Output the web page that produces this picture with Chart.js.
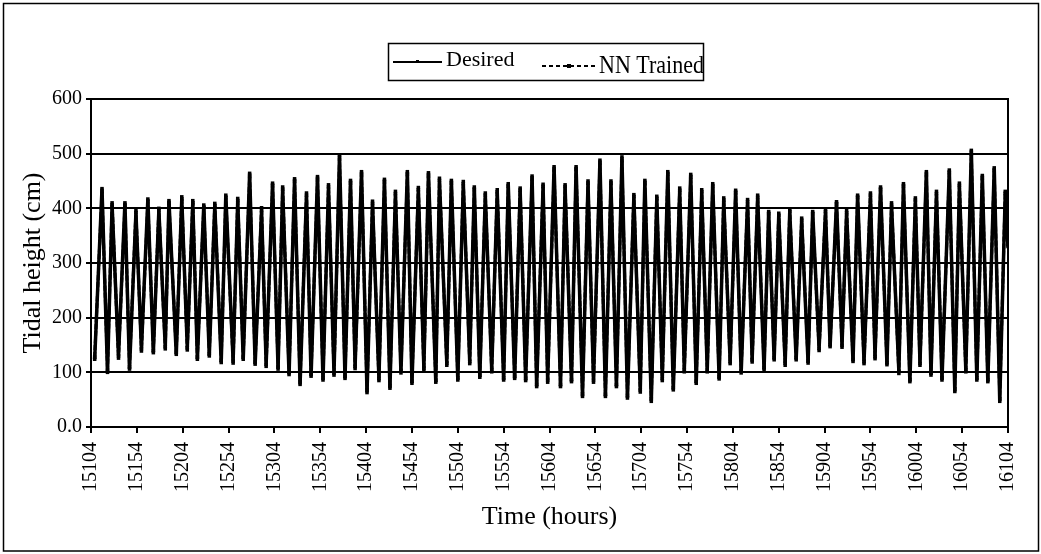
<!DOCTYPE html>
<html>
<head>
<meta charset="utf-8">
<script src="https://cdn.jsdelivr.net/npm/chart.js@4.4.1/dist/chart.umd.min.js"></script>
<style>
html,body{margin:0;padding:0;background:#fff;}
#wrap{width:1041px;height:554px;position:relative;}
</style>
</head>
<body>
<div id="wrap"><canvas id="c" width="1041" height="554"></canvas></div>
<script>
// Times (hours) of the turning points
const hours = [
  15108,15116,15122,15127,15134,15141,15146,15153,15159,15166,
  15172,15178,15185,15189,15197,15203,15209,15215,15220,15227,
  15233,15239,15246,15251,15259,15264,15270,15277,15283,15290,
  15295,15302,15308,15313,15320,15326,15332,15339,15344,15351,
  15357,15363,15369,15375,15381,15387,15392,15399,15405,15411,
  15418,15424,15430,15436,15442,15449,15454,15461,15467,15472,
  15480,15484,15492,15497,15504,15510,15517,15522,15528,15534,
  15541,15547,15554,15559,15566,15572,15578,15585,15590,15597,
  15602,15609,15616,15621,15628,15633,15640,15646,15652,15659,
  15665,15671,15677,15683,15689,15696,15703,15708,15715,15721,
  15727,15733,15739,15746,15751,15758,15764,15770,15776,15782,
  15789,15794,15801,15807,15813,15820,15825,15831,15838,15843,
  15849,15854,15861,15866,15873,15879,15886,15891,15898,15905,
  15910,15917,15923,15928,15935,15940,15947,15954,15959,15965,
  15972,15977,15985,15990,15997,16003,16008,16015,16020,16026,
  16032,16040,16046,16051,16058,16064,16070,16076,16082,16089,
  16095,16101,16104
];
// Desired tidal height (cm)
const desired = [
  124,436,100,406,130,410,106,392,143,417,
  136,396,147,414,133,417,145,410,124,406,
  130,405,118,424,121,414,124,464,115,396,
  115,446,106,435,96,454,78,424,93,458,
  86,439,99,497,89,451,111,467,63,409,
  89,453,71,427,99,467,80,434,108,465,
  82,451,117,451,86,445,120,439,91,424,
  105,430,86,445,89,433,85,459,74,440,
  86,476,74,439,83,476,56,446,86,488,
  56,446,74,494,53,421,68,451,47,418,
  89,467,68,433,105,462,80,430,105,445,
  88,415,120,433,99,412,123,420,105,394,
  123,387,117,394,123,378,117,394,144,394,
  147,412,150,392,120,424,120,424,129,439,
  114,406,102,445,83,415,117,467,95,427,
  86,470,65,442,105,506,86,460,83,474,
  47,427,330
];
// NN Trained tidal height (cm)
const nnTrained = [
  128,430,104,410,126,405,110,396,139,412,
  140,400,143,409,137,421,141,414,128,401,
  134,409,122,419,117,418,128,458,119,401,
  111,441,110,439,100,449,83,428,97,452,
  90,443,95,490,93,446,107,461,68,413,
  85,448,76,431,103,462,84,438,104,459,
  86,455,113,446,90,449,116,434,95,428,
  101,434,90,440,93,437,89,453,78,444,
  82,470,78,443,87,471,61,450,82,482,
  60,450,78,487,58,425,64,446,52,422,
  85,462,72,437,101,457,84,434,101,440,
  92,419,116,428,103,416,119,424,109,390,
  127,391,113,398,127,382,121,390,140,398,
  151,408,146,396,124,420,116,428,125,434,
  118,410,98,440,87,419,113,461,99,431,
  90,465,70,446,101,499,90,455,87,469,
  52,431,335
];
const xTickLabels = [15104,15154,15204,15254,15304,15354,15404,15454,15504,15554,
  15604,15654,15704,15754,15804,15854,15904,15954,16004,16054,16104];
const yTickValues = [0,100,200,300,400,500,600];
const yTickLabels = ['0.0','100','200','300','400','500','600'];
const seriesNames = ['Desired','NN Trained'];

const FONT = "'Liberation Serif','Times New Roman',serif";

const framePlugin = {
  id: 'frame',
  beforeDraw(chart) {
    const ctx = chart.ctx;
    ctx.save();
    ctx.fillStyle = '#fff';
    ctx.fillRect(0, 0, chart.width, chart.height);
    ctx.strokeStyle = '#000';
    ctx.lineWidth = 1.5;
    ctx.strokeRect(3.5, 3.5, 1035, 547.5);
    ctx.restore();
  },
  afterDraw(chart) {
    const ctx = chart.ctx;
    const a = chart.chartArea;
    ctx.save();
    ctx.strokeStyle = '#000';
    ctx.lineWidth = 2;
    ctx.beginPath();
    ctx.moveTo(a.right, a.top - 1);
    ctx.lineTo(a.right, a.bottom + 6);
    ctx.stroke();
    // legend
    const bx = 388, by = 43, bw = 315, bh = 37;
    ctx.lineWidth = 1.5;
    ctx.strokeRect(bx + 0.5, by + 0.5, bw, bh);
    ctx.lineWidth = 2;
    ctx.beginPath();
    ctx.moveTo(393, 62); ctx.lineTo(442, 62);
    ctx.stroke();
    ctx.fillStyle = '#000';
    ctx.fillRect(416, 60, 3, 3);
    ctx.setLineDash([4, 3]);
    ctx.beginPath();
    ctx.moveTo(542, 66); ctx.lineTo(596, 66);
    ctx.stroke();
    ctx.setLineDash([]);
    ctx.fillRect(567, 64, 4, 4);
    ctx.font = "22px " + FONT;
    ctx.textBaseline = 'alphabetic';
    ctx.textAlign = 'left';
    ctx.fillText(seriesNames[0], 446, 66);
    // the NN label is drawn slightly taller, as in the source
    ctx.save();
    ctx.translate(599, 73);
    ctx.scale(1, 1.15);
    ctx.fillText(seriesNames[1], 0, 0);
    ctx.restore();
    ctx.restore();
  }
};

new Chart(document.getElementById('c'), {
  type: 'line',
  data: {
    datasets: [
      {
        label: seriesNames[0],
        data: hours.map((h, i) => ({x: h, y: desired[i]})),
        borderColor: '#000',
        backgroundColor: '#000',
        borderWidth: 3.5,
        pointStyle: 'rect',
        pointRadius: 2.5,
        pointBorderWidth: 0,
        tension: 0,
        fill: false
      },
      {
        label: seriesNames[1],
        data: hours.map((h, i) => ({x: h, y: nnTrained[i]})),
        borderColor: '#000',
        backgroundColor: '#000',
        borderWidth: 3,
        borderDash: [5, 2],
        pointStyle: 'rect',
        pointRadius: 2.5,
        pointBorderWidth: 0,
        tension: 0,
        fill: false
      }
    ]
  },
  options: {
    responsive: false,
    animation: false,
    events: [],
    layout: {padding: {left: 0, top: 99, right: 30, bottom: 0}},
    plugins: {legend: {display: false}, tooltip: {enabled: false}},
    scales: {
      x: {
        type: 'linear',
        min: 15104,
        max: 16104,
        afterBuildTicks: s => { s.ticks = xTickLabels.map(v => ({value: v})); },
        afterFit: s => { s.height = 127; },
        ticks: {
          autoSkip: false,
          maxRotation: 90,
          minRotation: 90,
          padding: 9,
          color: '#000',
          font: {family: FONT, size: 20},
          callback: (v) => String(v)
        },
        grid: {drawOnChartArea: false, drawTicks: true, tickLength: 6, color: '#000', lineWidth: 2},
        border: {color: '#000', width: 2},
        title: {display: true, text: 'Time (hours)', color: '#000',
                font: {family: FONT, size: 26}, padding: {top: 0, bottom: 21}}
      },
      y: {
        type: 'linear',
        min: 0,
        max: 600,
        afterBuildTicks: s => { s.ticks = yTickValues.map(v => ({value: v})); },
        afterFit: s => { s.width = 91; },
        ticks: {
          padding: 4,
          color: '#000',
          font: {family: FONT, size: 20},
          callback: (v, i) => yTickLabels[i]
        },
        grid: {color: '#000', lineWidth: 2, tickLength: 5},
        border: {color: '#000', width: 2},
        title: {display: true, text: 'Tidal height (cm)', color: '#000',
                font: {family: FONT, size: 26}, padding: {top: 18, bottom: 0}}
      }
    }
  },
  plugins: [framePlugin]
});
</script>
</body>
</html>
